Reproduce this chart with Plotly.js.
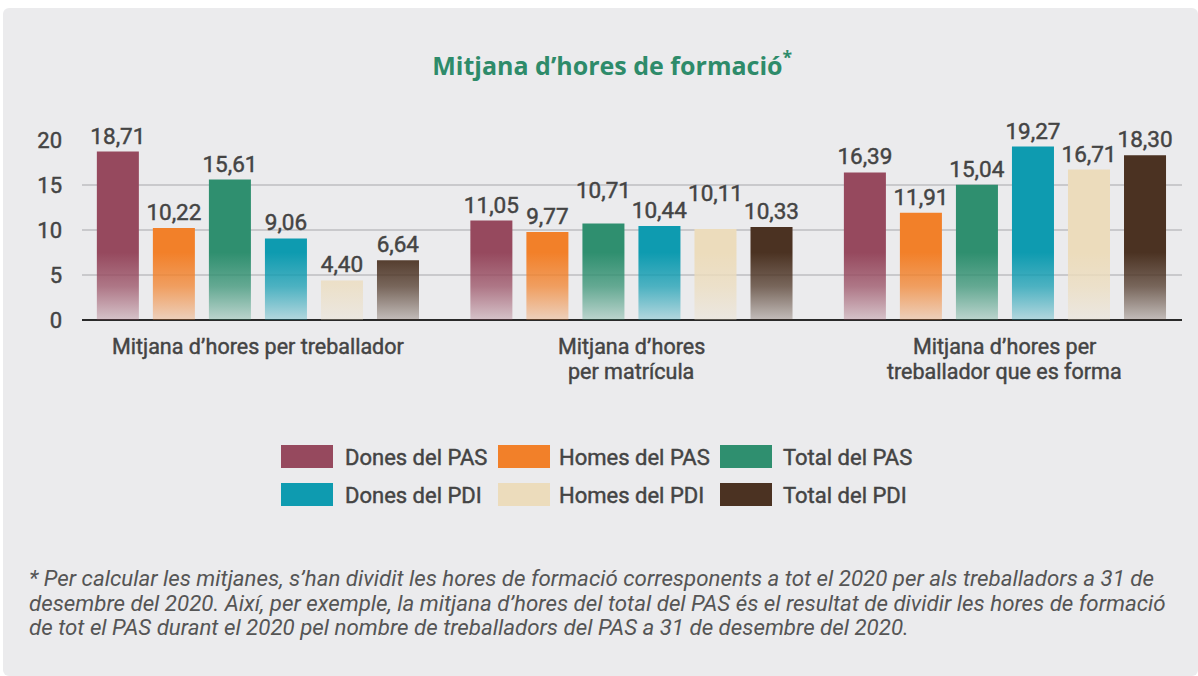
<!DOCTYPE html>
<html>
<head>
<meta charset="utf-8">
<script src="https://cdn.plot.ly/plotly-3.0.1.min.js"></script>
<style>
html,body{margin:0;padding:0;background:#ffffff;}
#bg{position:absolute;left:3px;top:8px;width:1195px;height:668px;background:#ebebed;border-radius:6px;}
#chart{position:absolute;left:0;top:0;width:1198px;height:676px;}
#chart text[style*="rgb(68, 68, 68)"]{stroke:#444444;stroke-width:0.45px;}
</style>
</head>
<body>
<div id="bg"></div>
<div id="chart"></div>
<script>
const categories = ["Mitjana d’hores per treballador", "Mitjana d’hores<br>per matrícula", "Mitjana d’hores per<br>treballador que es forma"];
const seriesNames = ["Dones del PAS", "Homes del PAS", "Total del PAS", "Dones del PDI", "Homes del PDI", "Total del PDI"];
const seriesColors = ["#96495e", "#f28029", "#2f8f6f", "#0e9bb0", "#ecdcbc", "#4b3222"];
const donesPAS = [18.71, 11.05, 16.39];
const homesPAS = [10.22, 9.77, 11.91];
const totalPAS = [15.61, 10.71, 15.04];
const donesPDI = [9.06, 10.44, 19.27];
const homesPDI = [4.40, 10.11, 16.71];
const totalPDI = [6.64, 10.33, 18.30];
const seriesValues = [donesPAS, homesPAS, totalPAS, donesPDI, homesPDI, totalPDI];
const yTicks = [0, 5, 10, 15, 20];
const titleText = "Mitjana d’hores de formació<sup>*</sup>";
const footnoteLines = [
  "* Per calcular les mitjanes, s’han dividit les hores de formació corresponents a tot el 2020 per als treballadors a 31 de",
  "desembre del 2020. Així, per exemple, la mitjana d’hores del total del PAS és el resultat de dividir les hores de formació",
  "de tot el PAS durant el 2020 pel nombre de treballadors del PAS a 31 de desembre del 2020."
];
// style: extra upward shift (px) of a few value labels, keyed "series-category"
const labelLift = {"2-1": 18, "4-1": 20};

const W = 1198, H = 676, ML = 82, MR = 16, MT = 140, MB = 356;
const PW = W - ML - MR, PH = H - MT - MB;
const px = x => (x - ML) / PW;
const py = y => (H - MB - y) / PH;
const fmt = v => v.toFixed(2).replace('.', ',');
const textColor = "#444444";
const baseFont = 'Roboto';
const txtWeight = 'normal';

const traces = seriesValues.map((vals, i) => ({
  type: 'bar',
  name: seriesNames[i],
  x: categories,
  y: vals,
  text: vals.map(fmt),
  textposition: 'outside',
  constraintext: 'none',
  textfont: {family: baseFont, size: 22.5, color: textColor, weight: txtWeight},
  marker: {color: seriesColors[i], line: {width: 0}},
  cliponaxis: false,
  hoverinfo: 'none'
}));

const shapes = [];
const annotations = [];
const legCols = [281, 498, 720];
const legTextX = [343, 557, 781];
const legRows = [445, 483];
seriesNames.forEach((n, i) => {
  const c = i % 3, r = Math.floor(i / 3);
  shapes.push({type: 'rect', xref: 'paper', yref: 'paper',
    x0: px(legCols[c]), x1: px(legCols[c] + 52), y0: py(legRows[r]), y1: py(legRows[r] + 23),
    fillcolor: seriesColors[i], line: {width: 0}, layer: 'above'});
  annotations.push({xref: 'paper', yref: 'paper', x: px(legTextX[c]), y: py(legRows[r] + 12),
    xanchor: 'left', yanchor: 'middle', text: n, showarrow: false,
    font: {family: baseFont, size: 22, color: textColor, weight: txtWeight}});
});
categories.forEach(cat => {
  cat.split('<br>').forEach((line, k) => {
    annotations.push({xref: 'x', yref: 'paper', x: cat, y: py(346 + 25 * k), xanchor: 'center', yanchor: 'middle',
      text: line, showarrow: false, font: {family: baseFont, size: 21.5, color: textColor, weight: txtWeight}});
  });
});
footnoteLines.forEach((line, k) => {
  annotations.push({xref: 'paper', yref: 'paper', x: px(27), y: py(578 + 24.5 * k), xanchor: 'left', yanchor: 'middle',
    align: 'left', text: line, showarrow: false,
    font: {family: baseFont, size: 22.3, color: '#555555', style: 'italic'}});
});

const layout = {
  width: W, height: H,
  margin: {l: ML, r: MR, t: MT, b: MB, pad: 0},
  paper_bgcolor: 'rgba(0,0,0,0)', plot_bgcolor: 'rgba(0,0,0,0)',
  title: {text: titleText, x: 0.511, xanchor: 'center', y: 1 - 66 / H, yanchor: 'middle', yref: 'container',
    font: {family: 'Open Sans', size: 25, color: '#2e8b6a', weight: 'bold'}},
  showlegend: false,
  barmode: 'group', bargap: 0.1, bargroupgap: 0.25,
  xaxis: {type: 'category', range: [-0.471, 2.474], showgrid: false, zeroline: false,
    showline: false, ticks: '', showticklabels: false},
  yaxis: {range: [0, 20], tickvals: yTicks, ticktext: yTicks.map(String), showgrid: true, gridcolor: '#c9c9cc', gridwidth: 1.5,
    zeroline: true, zerolinecolor: '#2a2a2a', zerolinewidth: 2, showline: false, ticks: '',
    tickfont: {family: baseFont, size: 22, color: textColor, weight: txtWeight}, ticklabelstandoff: 19},
  shapes: shapes, annotations: annotations,
  font: {family: baseFont, color: textColor}
};

Plotly.newPlot('chart', traces, layout, {displayModeBar: false, staticPlot: true}).then(gd => {
  const ya = gd._fullLayout.yaxis;
  const svgNS = 'http://www.w3.org/2000/svg';
  const defs = gd.querySelector('svg.main-svg defs');
  const yTop = ya.l2p(7.5), yBot = ya.l2p(0);
  seriesColors.forEach((col, i) => {
    const g = document.createElementNS(svgNS, 'linearGradient');
    g.setAttribute('id', 'fade' + i);
    g.setAttribute('gradientUnits', 'userSpaceOnUse');
    g.setAttribute('x1', 0); g.setAttribute('x2', 0);
    g.setAttribute('y1', yTop); g.setAttribute('y2', yBot);
    [[0, 1], [0.5, 0.72], [1, 0.25]].forEach(([o, op]) => {
      const s = document.createElementNS(svgNS, 'stop');
      s.setAttribute('offset', o);
      s.setAttribute('stop-color', col);
      s.setAttribute('stop-opacity', op);
      g.appendChild(s);
    });
    defs.appendChild(g);
  });
  const traceGroups = gd.querySelectorAll('.barlayer .trace.bars');
  traceGroups.forEach((tg, i) => {
    tg.querySelectorAll('.point').forEach((pt, j) => {
      const p = pt.querySelector('path');
      if (p) p.style.fill = 'url(#fade' + i + ')';
      const lift = labelLift[i + '-' + j];
      const t = pt.querySelector('text');
      if (lift && t) {
        const tr = t.getAttribute('transform') || '';
        t.setAttribute('transform', 'translate(0,' + (-lift) + ') ' + tr);
      }
    });
  });
});
</script>
</body>
</html>
